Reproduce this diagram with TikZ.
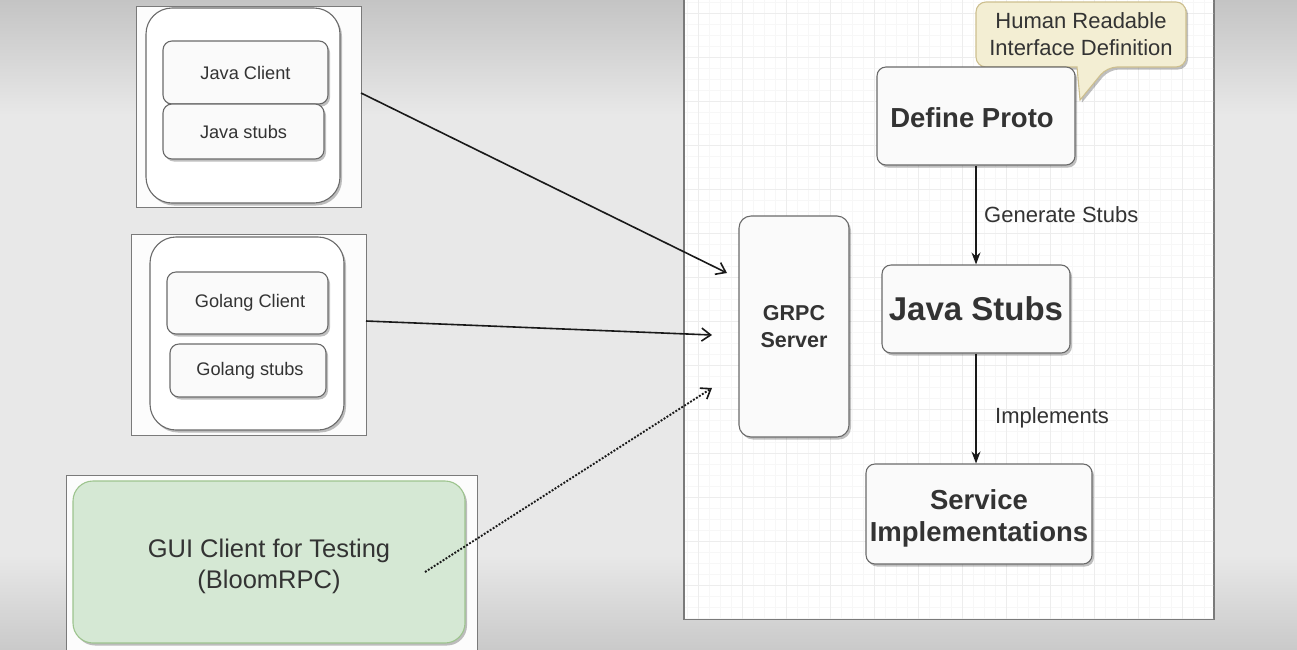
\documentclass[tikz,border=0pt]{standalone}
\usepackage{fontspec}
\setmainfont{Liberation Sans}
\usetikzlibrary{arrows.meta,shadows}
\definecolor{bgtop}{HTML}{C4C4C4}
\definecolor{bgmid}{HTML}{E8E8E8}
\definecolor{bgbot}{HTML}{CACACA}
\definecolor{boxline}{HTML}{6A6A6A}
\definecolor{boxfill}{HTML}{FAFAFA}
\definecolor{frameline}{HTML}{7A7A7A}
\definecolor{framefill}{HTML}{FCFCFC}
\definecolor{txt}{HTML}{333333}
\definecolor{guifill}{HTML}{D5E8D4}
\definecolor{guiline}{HTML}{9DC48E}
\definecolor{callfill}{HTML}{F3EED3}
\definecolor{callline}{HTML}{CDBF8E}
\definecolor{gridmin}{HTML}{F7F7F7}
\definecolor{gridmaj}{HTML}{EDEDED}
\newcommand{\lowr}[2]{\raisebox{-#1}[\height][\depth]{#2}}
\begin{document}
\begin{tikzpicture}[x=1pt,y=-1pt,
  shad/.style={drop shadow={shadow xshift=2pt,shadow yshift=-2.5pt,opacity=0.25,fill=black}},
  frame/.style={draw=frameline,line width=0.9pt,fill=framefill,inner sep=0pt},
  box/.style={draw=boxline,line width=1.1pt,fill=boxfill,rounded corners=9pt,shad,
    text=txt,align=center,inner sep=0pt},
  outerbox/.style={box,rounded corners=26pt,fill=white},
  small/.style={font=\fontsize{18.2}{21}\selectfont},
  big/.style={font=\fontsize{27.5}{32}\selectfont\bfseries},
  lbl/.style={text=txt,font=\fontsize{22}{25}\selectfont,anchor=west,inner sep=0pt},
  conn/.style={line width=1.6pt,draw=black!90,-{Straight Barb[length=9pt,width=13pt,line width=1.6pt]}},
  vconn/.style={line width=1.2pt,draw=black!90,-{Stealth[length=12pt,width=9pt]}}
]
\useasboundingbox (0,0) rectangle (1297,649);
% background
\fill[bgmid] (0,0) rectangle (1297,649);
\shade[top color=bgtop,bottom color=bgmid] (0,0) rectangle (1297,115);
\shade[top color=bgmid,bottom color=bgbot] (0,555) rectangle (1297,649);

% right panel with grid
\node[frame,fill=white,line width=1.2pt,minimum width=530pt,minimum height=629pt] (rpanel) at (949,304.5) {};
\begin{scope}
  \clip (685,0) rectangle (1213,618);
  \foreach \i in {0,...,48} \draw[gridmin,line width=0.6pt] ({687+11*\i},0) -- ++(0,619);
  \foreach \i in {0,...,57} \draw[gridmin,line width=0.6pt] (684,{2+11*\i}) -- ++(530,0);
  \foreach \i in {0,...,12} \draw[gridmaj,line width=0.7pt] ({698+44*\i},0) -- ++(0,619);
  \foreach \i in {0,...,14} \draw[gridmaj,line width=0.7pt] (684,{13+44*\i}) -- ++(530,0);
\end{scope}

% Java panel
\node[frame,minimum width=225pt,minimum height=201pt] (javaframe) at (248.5,106.5) {};
\node[outerbox,minimum width=194pt,minimum height=195pt] (javaouter) at (243,105.5) {};
\node[box,small,minimum width=165pt,minimum height=63pt] (javaclient) at (245.5,72.5) {Java Client};
\node[box,small,minimum width=161pt,minimum height=55pt] (javastubs) at (243.5,131.5) {Java stubs};

% Golang panel
\node[frame,minimum width=235pt,minimum height=201pt] (goframe) at (248.5,334.5) {};
\node[outerbox,minimum width=194pt,minimum height=193pt] (goouter) at (247,333.5) {};
\node[box,small,minimum width=161pt,minimum height=62pt] (goclient) at (247.5,303) {\hspace*{5pt}Golang Client};
\node[box,small,minimum width=156pt,minimum height=53pt] (gostubs) at (248,370.5) {\hspace*{4pt}Golang stubs};

% GUI panel
\node[frame,minimum width=411pt,minimum height=190pt] (guiframe) at (271.5,570) {};
\node[box,draw=guiline,fill=guifill,rounded corners=20pt,font=\fontsize{25.5}{31}\selectfont,
  minimum width=392pt,minimum height=162pt] (gui) at (269,562)
  {\lowr{4pt}{GUI Client for Testing}\\\lowr{4pt}{(BloomRPC)}};

% callout
\draw[callline,fill=callfill,line width=1.1pt,shad]
  (976,30) [rounded corners=10pt] -- (976,2) -- (1186,2) -- (1186,67) -- (1107,67)
  [rounded corners=0pt] -- (1080,100) -- (1077,67) [rounded corners=10pt] -- (976,67) -- (976,30);
\node[text=txt,align=center,font=\fontsize{22}{27}\selectfont,inner sep=0pt] (callout) at (1081,34)
  {Human Readable\\Interface Definition};

% right-hand boxes
\node[box,big,minimum width=198pt,minimum height=98pt] (proto) at (976,116) {\lowr{2pt}{Define Proto}\hspace*{8pt}};
\node[box,font=\fontsize{33}{38}\selectfont\bfseries,minimum width=188pt,minimum height=88pt] (jstubs) at (976,309) {Java Stubs};
\node[box,big,minimum width=226pt,minimum height=100pt] (service) at (979,514)
  {\lowr{4pt}{Service}\\\lowr{4pt}{Implementations}};
\node[box,font=\fontsize{21.5}{27}\selectfont\bfseries,rounded corners=12pt,
  minimum width=110pt,minimum height=221pt] (grpc) at (794,326.5) {GRPC\\Server};

% connectors
\coordinate (jstart) at (361,93);
\coordinate (jtip) at (727,273);
\coordinate (gstart) at (366,321);
\coordinate (gtip) at (712,335);
\coordinate (ustart) at (425,572);
\coordinate (utip) at (712,388);
\draw[conn] (jstart) -- (jtip);
\draw[conn] (gstart) -- (gtip);
\draw[conn,line width=1.9pt,dash pattern=on 1.9pt off 1.6pt] (ustart) -- (utip);

\draw[vconn] (proto.south) -- (jstubs.north);
\draw[vconn] (jstubs.south) -- (jstubs.south |- service.north);
\node[lbl] (genlbl) at (984,215) {Generate Stubs};
\node[lbl] (implbl) at (995,418) {Implements};
\end{tikzpicture}
\end{document}
